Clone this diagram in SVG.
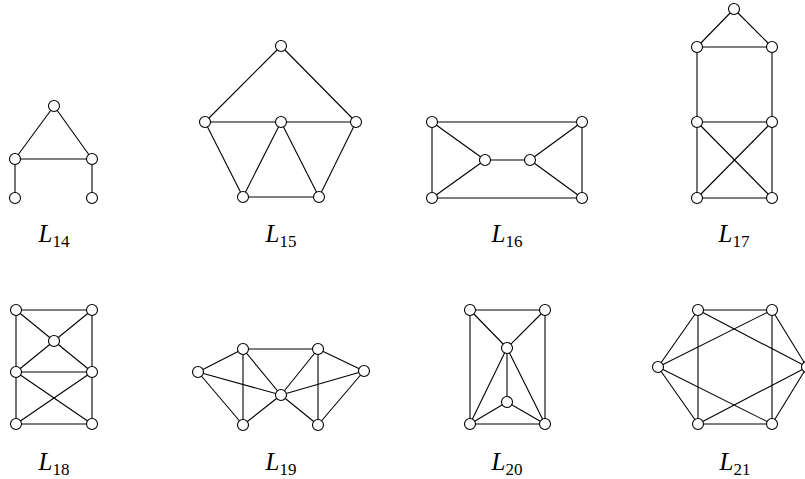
<svg xmlns="http://www.w3.org/2000/svg" width="805" height="479" viewBox="0 0 805 479">
<style>
.e line{stroke:#000;stroke-width:1.1;}
circle{fill:#fff;stroke:#000;stroke-width:1.1;}
text{font-family:"Liberation Serif","DejaVu Serif",serif;font-size:25px;text-anchor:middle;fill:#000;}
.it{font-style:italic;}
.sub{font-size:17px;}
</style>
<rect width="805" height="479" fill="#fff"/>
<g id="connectors" class="e">
<!-- L14 -->
<line x1="54" y1="106" x2="15" y2="159"/><line x1="54" y1="106" x2="92" y2="159"/><line x1="15" y1="159" x2="92" y2="159"/><line x1="15" y1="159" x2="15" y2="198"/><line x1="92" y1="159" x2="92" y2="198"/>
<!-- L15 -->
<line x1="281" y1="46" x2="205" y2="122"/><line x1="281" y1="46" x2="356" y2="122"/><line x1="205" y1="122" x2="356" y2="122"/><line x1="205" y1="122" x2="243" y2="197"/><line x1="243" y1="197" x2="281" y2="122"/><line x1="281" y1="122" x2="319" y2="197"/><line x1="319" y1="197" x2="356" y2="122"/><line x1="243" y1="197" x2="319" y2="197"/>
<!-- L16 -->
<line x1="432" y1="122" x2="582" y2="122"/><line x1="432" y1="122" x2="432" y2="198"/><line x1="582" y1="122" x2="582" y2="198"/><line x1="432" y1="198" x2="582" y2="198"/><line x1="432" y1="122" x2="485" y2="160"/><line x1="432" y1="198" x2="485" y2="160"/><line x1="485" y1="160" x2="530" y2="160"/><line x1="530" y1="160" x2="582" y2="122"/><line x1="530" y1="160" x2="582" y2="198"/>
<!-- L17 -->
<line x1="734" y1="9" x2="697" y2="47"/><line x1="734" y1="9" x2="772" y2="47"/><line x1="697" y1="47" x2="772" y2="47"/><line x1="697" y1="47" x2="697" y2="198"/><line x1="772" y1="47" x2="772" y2="198"/><line x1="697" y1="122" x2="772" y2="122"/><line x1="697" y1="122" x2="772" y2="198"/><line x1="772" y1="122" x2="697" y2="198"/><line x1="697" y1="198" x2="772" y2="198"/>
<!-- L18 -->
<line x1="16" y1="310" x2="92" y2="310"/><line x1="16" y1="310" x2="16" y2="424"/><line x1="92" y1="310" x2="92" y2="424"/><line x1="16" y1="310" x2="54" y2="341"/><line x1="92" y1="310" x2="54" y2="341"/><line x1="54" y1="341" x2="16" y2="372"/><line x1="54" y1="341" x2="92" y2="372"/><line x1="16" y1="372" x2="92" y2="372"/><line x1="16" y1="372" x2="92" y2="424"/><line x1="92" y1="372" x2="16" y2="424"/><line x1="16" y1="424" x2="92" y2="424"/>
<!-- L19 -->
<line x1="198" y1="372" x2="243" y2="349"/><line x1="198" y1="372" x2="281" y2="395"/><line x1="198" y1="372" x2="243" y2="425"/><line x1="243" y1="349" x2="318" y2="349"/><line x1="243" y1="349" x2="243" y2="425"/><line x1="243" y1="349" x2="281" y2="395"/><line x1="281" y1="395" x2="243" y2="425"/><line x1="318" y1="349" x2="281" y2="395"/><line x1="318" y1="349" x2="318" y2="425"/><line x1="318" y1="349" x2="364" y2="371"/><line x1="281" y1="395" x2="364" y2="371"/><line x1="364" y1="371" x2="318" y2="425"/><line x1="281" y1="395" x2="318" y2="425"/>
<!-- L20 -->
<line x1="470" y1="310" x2="545" y2="310"/><line x1="470" y1="310" x2="470" y2="424"/><line x1="545" y1="310" x2="545" y2="424"/><line x1="470" y1="310" x2="507" y2="348"/><line x1="545" y1="310" x2="507" y2="348"/><line x1="507" y1="348" x2="507" y2="402"/><line x1="507" y1="348" x2="470" y2="424"/><line x1="507" y1="348" x2="545" y2="424"/><line x1="507" y1="402" x2="470" y2="424"/><line x1="507" y1="402" x2="545" y2="424"/><line x1="470" y1="424" x2="545" y2="424"/>
<!-- L21 -->
<line x1="698" y1="310" x2="772" y2="310"/><line x1="698" y1="310" x2="698" y2="424"/><line x1="772" y1="310" x2="772" y2="424"/><line x1="698" y1="424" x2="772" y2="424"/><line x1="698" y1="310" x2="658" y2="367"/><line x1="658" y1="367" x2="698" y2="424"/><line x1="772" y1="310" x2="807" y2="367"/><line x1="807" y1="367" x2="772" y2="424"/><line x1="698" y1="310" x2="807" y2="367"/><line x1="772" y1="310" x2="658" y2="367"/><line x1="658" y1="367" x2="772" y2="424"/><line x1="698" y1="424" x2="807" y2="367"/>
</g>
<g id="L14"><circle cx="54" cy="106" r="5.5"/><circle cx="15" cy="159" r="5.5"/><circle cx="92" cy="159" r="5.5"/><circle cx="15" cy="198" r="5.5"/><circle cx="92" cy="198" r="5.5"/><text x="54" y="242"><tspan class="it">L</tspan><tspan class="sub" dy="5">14</tspan></text></g>
<g id="L15"><circle cx="281" cy="46" r="5.5"/><circle cx="205" cy="122" r="5.5"/><circle cx="281" cy="122" r="5.5"/><circle cx="356" cy="122" r="5.5"/><circle cx="243" cy="197" r="5.5"/><circle cx="319" cy="197" r="5.5"/><text x="281" y="242"><tspan class="it">L</tspan><tspan class="sub" dy="5">15</tspan></text></g>
<g id="L16"><circle cx="432" cy="122" r="5.5"/><circle cx="582" cy="122" r="5.5"/><circle cx="485" cy="160" r="5.5"/><circle cx="530" cy="160" r="5.5"/><circle cx="432" cy="198" r="5.5"/><circle cx="582" cy="198" r="5.5"/><text x="507" y="242"><tspan class="it">L</tspan><tspan class="sub" dy="5">16</tspan></text></g>
<g id="L17"><circle cx="734" cy="9" r="5.5"/><circle cx="697" cy="47" r="5.5"/><circle cx="772" cy="47" r="5.5"/><circle cx="697" cy="122" r="5.5"/><circle cx="772" cy="122" r="5.5"/><circle cx="697" cy="198" r="5.5"/><circle cx="772" cy="198" r="5.5"/><text x="734" y="242"><tspan class="it">L</tspan><tspan class="sub" dy="5">17</tspan></text></g>
<g id="L18"><circle cx="16" cy="310" r="5.5"/><circle cx="92" cy="310" r="5.5"/><circle cx="54" cy="341" r="5.5"/><circle cx="16" cy="372" r="5.5"/><circle cx="92" cy="372" r="5.5"/><circle cx="16" cy="424" r="5.5"/><circle cx="92" cy="424" r="5.5"/><text x="54" y="470"><tspan class="it">L</tspan><tspan class="sub" dy="5">18</tspan></text></g>
<g id="L19"><circle cx="198" cy="372" r="5.5"/><circle cx="243" cy="349" r="5.5"/><circle cx="318" cy="349" r="5.5"/><circle cx="364" cy="371" r="5.5"/><circle cx="281" cy="395" r="5.5"/><circle cx="243" cy="425" r="5.5"/><circle cx="318" cy="425" r="5.5"/><text x="281" y="470"><tspan class="it">L</tspan><tspan class="sub" dy="5">19</tspan></text></g>
<g id="L20"><circle cx="470" cy="310" r="5.5"/><circle cx="545" cy="310" r="5.5"/><circle cx="507" cy="348" r="5.5"/><circle cx="507" cy="402" r="5.5"/><circle cx="470" cy="424" r="5.5"/><circle cx="545" cy="424" r="5.5"/><text x="507" y="470"><tspan class="it">L</tspan><tspan class="sub" dy="5">20</tspan></text></g>
<g id="L21"><circle cx="698" cy="310" r="5.5"/><circle cx="772" cy="310" r="5.5"/><circle cx="658" cy="367" r="5.5"/><circle cx="807" cy="367" r="5.5"/><circle cx="698" cy="424" r="5.5"/><circle cx="772" cy="424" r="5.5"/><text x="735" y="470"><tspan class="it">L</tspan><tspan class="sub" dy="5">21</tspan></text></g>
</svg>
